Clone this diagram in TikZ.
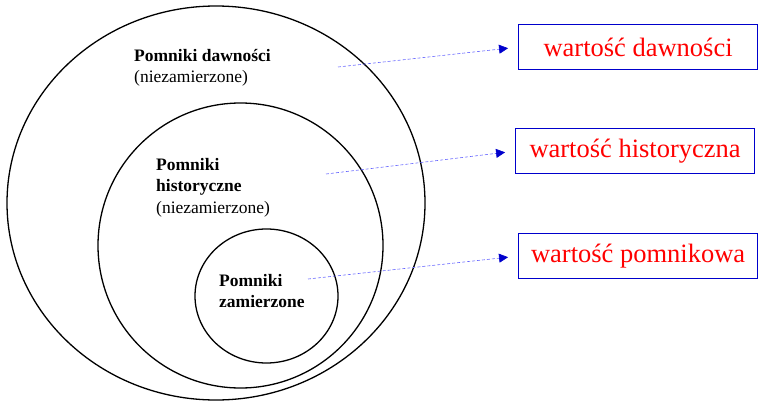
\documentclass[tikz,border=0pt]{standalone}
\usepackage{fontspec}
\setmainfont{Liberation Serif}
\usetikzlibrary{arrows.meta}

\begin{document}
\begin{tikzpicture}[
    x=1pt,y=-1pt,
    ring/.style={draw,line width=1.3pt},
    label/.style={anchor=north west,align=left,inner sep=0pt,font=\fontsize{17.5}{21.5}\selectfont},
    valuebox/.style={draw=blue!80!black,line width=1.2pt,minimum width=239pt,minimum height=45pt,
        anchor=north west,text=red,font=\fontsize{26.5}{30}\selectfont},
    pointer/.style={draw=blue!60,densely dashed,line width=0.6pt,
        -{Triangle[length=9pt,width=9pt,color=blue!80!black,fill=blue!80!black]},shorten >=10pt}
]
\useasboundingbox (0,0) rectangle (759,404);
% the three nested rings
\draw[ring] (216,203) ellipse [x radius=209,y radius=197];
\draw[ring] (240.5,245.5) ellipse [x radius=142.5,y radius=142.5];
\draw[ring] (266.5,296) ellipse [x radius=71.5,y radius=67];
% texts inside
\node[label] (dawne) at (134,49) {\textbf{Pomniki dawności}\\(niezamierzone)};
\node[label] (histor) at (156,158) {\textbf{Pomniki}\\\textbf{historyczne}\\(niezamierzone)};
\node[label] (zamier) at (219,274) {\textbf{Pomniki}\\\textbf{zamierzone}};
% value boxes
\node[valuebox] (wdawn) at (518,24) {wartość dawności};
\node[valuebox] (whist) at (515,128) {wartość historyczna};
\node[valuebox] (wpomn) at (518,233) {wartość pomnikowa};
% pointers
\coordinate (p1) at (338,67);
\coordinate (p2) at (326,174);
\coordinate (p3) at (308,279);
\draw[pointer] (p1) -- (wdawn.west);
\draw[pointer] (p2) -- (whist.west);
\draw[pointer] (p3) -- (wpomn.west);
\end{tikzpicture}
\end{document}
